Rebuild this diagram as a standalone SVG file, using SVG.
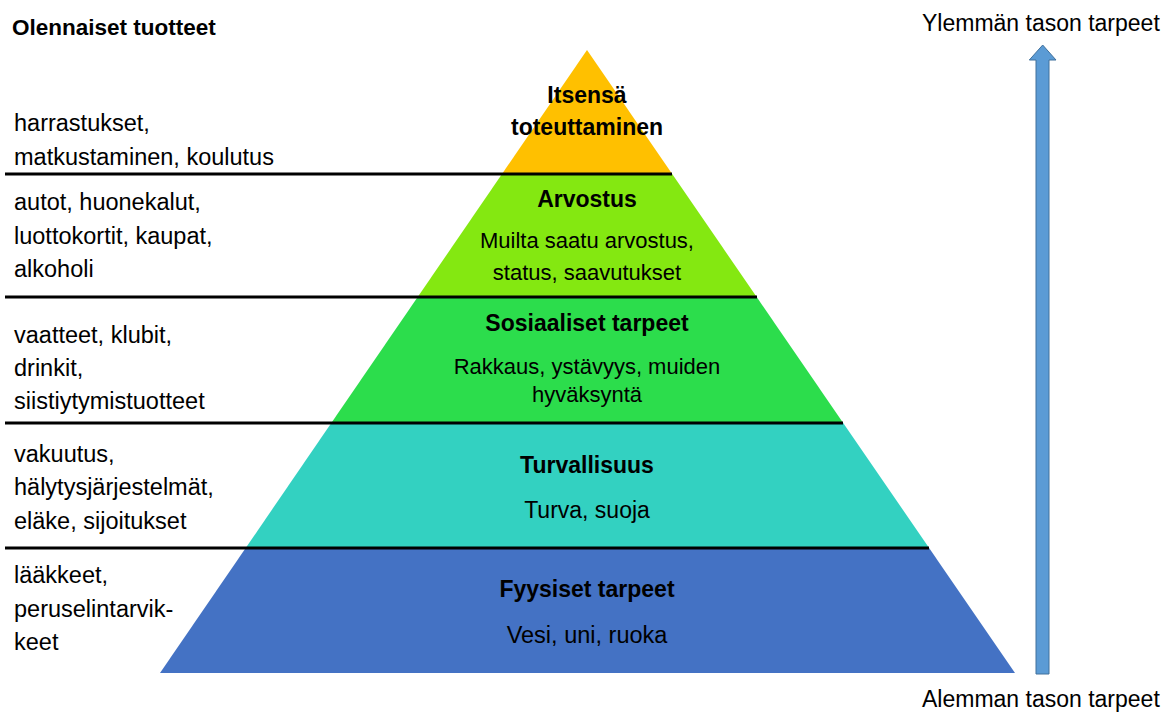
<svg xmlns="http://www.w3.org/2000/svg" width="1169" height="713" viewBox="0 0 1169 713">
<style>
text{font-family:"Liberation Sans",Arial,sans-serif;fill:#000}
.l{font-size:23.5px}
.h{font-size:22.5px;font-weight:bold}
.c{font-size:23px;font-weight:bold;text-anchor:middle}
.s{font-size:22px;text-anchor:middle}
.r{font-size:23px}
.sep{stroke:#000;stroke-width:3;fill:none}
</style>
<rect width="1169" height="713" fill="#fff"/>
<g id="level5"><polygon points="587,50 672.2,174 502,174" fill="#FFC000"/>
<text class="c" x="587" y="103">Itsensä</text><text class="c" x="587" y="135">toteuttaminen</text></g>
<g id="level4"><polygon points="502,174 672.2,174 756.7,297 417.7,297" fill="#84E811"/>
<text class="c" x="587" y="207">Arvostus</text><text class="s" x="587" y="248">Muilta saatu arvostus,</text><text class="s" x="587" y="280">status, saavutukset</text></g>
<g id="level3"><polygon points="417.7,297 756.7,297 843.2,423 331.3,423" fill="#2CDD4C"/>
<text class="c" x="587" y="331">Sosiaaliset tarpeet</text><text class="s" x="587" y="374">Rakkaus, ystävyys, muiden</text><text class="s" x="587" y="402">hyväksyntä</text></g>
<g id="level2"><polygon points="331.3,423 843.2,423 929.1,548 245.7,548" fill="#33D1C1"/>
<text class="c" x="587" y="473">Turvallisuus</text><text class="s" x="587" y="518" style="font-size:23px">Turva, suoja</text></g>
<g id="level1"><polygon points="245.7,548 929.1,548 1015,673 160,673" fill="#4472C4"/>
<text class="c" x="587" y="597">Fyysiset tarpeet</text><text class="s" x="587" y="643" style="font-size:23.5px">Vesi, uni, ruoka</text></g>
<g id="connectors">
<line class="sep" x1="5" y1="174" x2="672" y2="174"/>
<line class="sep" x1="5" y1="297" x2="757" y2="297"/>
<line class="sep" x1="5" y1="423" x2="843" y2="423"/>
<line class="sep" x1="5" y1="548" x2="929" y2="548"/>
</g>
<g id="arrow"><polygon points="1042.7,45 1056,60 1049,60 1049,674 1036,674 1036,60 1029.3,60" fill="#5B9BD5" stroke="#41719C" stroke-width="1"/></g>
<g id="left-labels">
<text class="h" x="12" y="35">Olennaiset tuotteet</text>
<text class="l" x="14" y="131">harrastukset,</text>
<text class="l" x="14" y="165">matkustaminen, koulutus</text>
<text class="l" x="14" y="210">autot, huonekalut,</text>
<text class="l" x="14" y="244">luottokortit, kaupat,</text>
<text class="l" x="14" y="277">alkoholi</text>
<text class="l" x="14" y="343">vaatteet, klubit,</text>
<text class="l" x="14" y="376">drinkit,</text>
<text class="l" x="14" y="409">siistiytymistuotteet</text>
<text class="l" x="14" y="462">vakuutus,</text>
<text class="l" x="14" y="495">hälytysjärjestelmät,</text>
<text class="l" x="14" y="529">eläke, sijoitukset</text>
<text class="l" x="14" y="583">lääkkeet,</text>
<text class="l" x="14" y="617">peruselintarvik-</text>
<text class="l" x="14" y="650">keet</text>
</g>
<g id="right-labels">
<text class="r" x="922" y="31">Ylemmän tason tarpeet</text>
<text class="r" x="922" y="707">Alemman tason tarpeet</text>
</g>
</svg>
